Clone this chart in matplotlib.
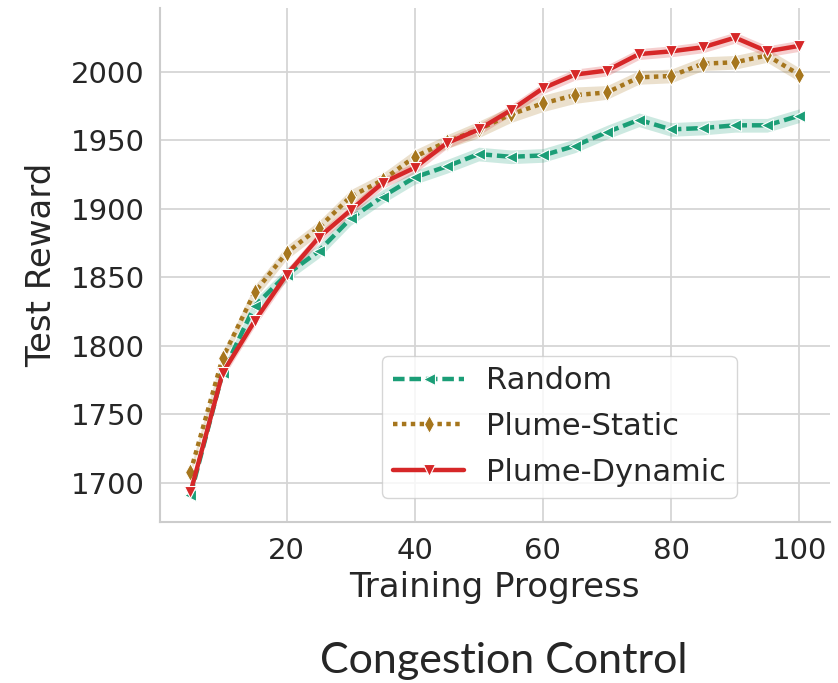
import matplotlib
matplotlib.use("Agg")
import matplotlib.pyplot as plt
import seaborn as sns
import numpy as np

progress = [5, 10, 15, 20, 25, 30, 35, 40, 45, 50, 55, 60, 65, 70, 75, 80, 85, 90, 95, 100]

random_r = [1691, 1780, 1829, 1852, 1869, 1893, 1909, 1923, 1931, 1940,
            1938, 1939, 1946, 1956, 1965, 1958, 1959, 1961, 1961, 1968]
static_r = [1708, 1791, 1839, 1868, 1886, 1909, 1921, 1938, 1949, 1958,
            1969, 1977, 1983, 1985, 1996, 1997, 2006, 2007, 2012, 1998]
dynamic_r = [1693, 1780, 1818, 1852, 1879, 1899, 1919, 1930, 1948, 1958,
             1972, 1988, 1998, 2001, 2013, 2015, 2018, 2025, 2015, 2019]

# half width of the shaded band
random_ci = [3, 4, 5, 5, 5, 5, 5, 5, 5, 5, 5, 5, 5, 5, 5, 5, 5, 5, 5, 5]
static_ci = [3, 4, 5, 5, 5, 5, 5, 5, 5, 6, 6, 6, 6, 5, 5, 5, 5, 5, 5, 5]
dynamic_ci = [3, 4, 4, 4, 4, 4, 4, 4, 4, 4, 4, 4, 4, 4, 4, 4, 4, 4, 4, 4]

names = ['Random', 'Plume-Static', 'Plume-Dynamic']

sns.set_theme(style='whitegrid')
plt.rcParams['font.family'] = ['DejaVu Sans']

fig = plt.figure(figsize=(8.38, 6.83), dpi=100)
ax = fig.add_axes([0.191, 0.236, 0.799, 0.752])

series = [
    (random_r, random_ci, '#1b9e77', '<', (0, (2.6, 1.1)), 8),
    (static_r, static_ci, '#a6761d', 'd', (0, (1, 1)), 9),
    (dynamic_r, dynamic_ci, '#d62728', 'v', '-', 8),
]
x = np.array(progress)
for name, (vals, ci, col, mk, ls, ms) in zip(names, series):
    v = np.array(vals)
    c = np.array(ci)
    ax.fill_between(x, v - c, v + c, color=col, alpha=0.22, linewidth=0)
    ax.plot(x, v, color=col, linestyle=ls, linewidth=3.2, marker=mk, markersize=ms,
            markeredgecolor='white', markeredgewidth=0.8, label=name)

ax.set_xlim(0.25, 104.75)
ax.set_ylim(1671.5, 2046.5)
ax.set_xticks([20, 40, 60, 80, 100])
ax.set_yticks([1700, 1750, 1800, 1850, 1900, 1950, 2000])
ax.tick_params(labelsize=21, colors='#262626', pad=5)
ax.set_xlabel('Training Progress', fontsize=24.5, color='#262626', labelpad=4)
ax.set_ylabel('Test Reward', fontsize=24.5, color='#262626', labelpad=9)
for s in ['top', 'right']:
    ax.spines[s].set_visible(False)
for s in ['left', 'bottom']:
    ax.spines[s].set_color('#cccccc')
    ax.spines[s].set_linewidth(1.5)
ax.grid(color='#d5d5d5', linewidth=1.3)

ax.legend(loc='lower right', bbox_to_anchor=(0.861, 0.047), borderaxespad=0,
          fontsize=22, handlelength=2.35, handletextpad=0.7, numpoints=1,
          framealpha=0.8, borderpad=0.35, labelspacing=0.55)

fig.text(0.601, 0.032, 'Congestion Control', fontsize=31, family='Lato',
         ha='center', va='center', color='#262626')

fig.savefig('out.png', dpi=100)
